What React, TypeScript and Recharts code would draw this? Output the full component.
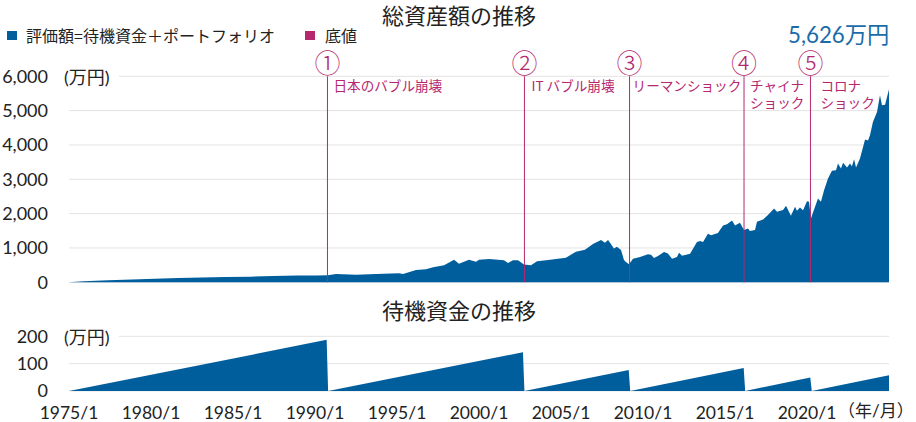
import { AreaChart, Area, XAxis, YAxis, CartesianGrid, ReferenceLine } from 'recharts';

const FONT = "Lato, 'Noto Sans CJK JP', sans-serif";
const CJK = "'Noto Sans CJK JP', sans-serif";
const BLUE = '#015e9d';
const PINK = '#b5276f';
const GRID = '#e3e3e3';

// 総資産額 (decimal year, 万円)
const totalYears = [
  1975, 1975.91, 1977.38, 1978.84, 1980.24, 1981.65, 1983.11, 1984.51, 1986.04, 1987.44, 1988.9,
  1990.06, 1990.79, 1991.28, 1992.5, 1993.72, 1995.12, 1995.37, 1996.16, 1996.77, 1997.2, 1997.87,
  1998.48, 1998.78, 1999.39, 1999.82, 2000, 2000.61, 2001.16, 2001.52, 2001.77, 2002.07, 2002.38,
  2002.74, 2003.17, 2003.54, 2004.09, 2004.7, 2005.3, 2005.91, 2006.46, 2006.95, 2007.44, 2007.68,
  2007.87, 2008.05, 2008.23, 2008.41, 2008.66, 2008.84, 2008.96, 2009.15, 2009.39, 2009.82, 2010.3,
  2010.49, 2010.67, 2010.91, 2011.28, 2011.52, 2011.77, 2012.07, 2012.2, 2012.38, 2012.87, 2013.29,
  2013.48, 2013.66, 2013.96, 2014.15, 2014.57, 2014.88, 2015.12, 2015.43, 2015.61, 2015.91, 2016.16,
  2016.4, 2016.52, 2016.83, 2016.95, 2017.32, 2017.62, 2017.99, 2018.17, 2018.54, 2018.72, 2019.02,
  2019.27, 2019.39, 2019.57, 2019.76, 2020, 2020.12, 2020.24, 2020.49, 2020.67, 2020.85, 2021.04,
  2021.28, 2021.52, 2021.77, 2021.89, 2022.07, 2022.2, 2022.44, 2022.62, 2022.74, 2022.87, 2022.99,
  2023.23, 2023.54, 2023.72, 2023.84, 2024.02, 2024.27, 2024.45, 2024.57, 2024.76, 2025,
];
const totalValues = [
  0, 30, 60, 80, 107, 122, 137, 157, 165, 186, 195,
  200, 205, 242, 223, 242, 262, 245, 358, 378, 436, 494,
  659, 543, 659, 600, 659, 678, 659, 640, 562, 640, 640,
  520, 494, 610, 640, 678, 717, 891, 950, 1114, 1230, 1150,
  1230, 1110, 988, 1037, 940, 650, 590, 523, 688, 736, 814,
  800, 707, 765, 882, 840, 688, 736, 862, 775, 833, 1172,
  1201, 1172, 1415, 1370, 1434, 1657, 1690, 1802, 1657, 1735, 1521,
  1570, 1492, 1521, 1764, 1831, 1957, 2151, 2054, 2103, 2229, 1938,
  2200, 2083, 2180, 2100, 2364, 2345, 1860, 2200, 2442, 2345, 2684,
  3023, 3246, 3260, 3459, 3314, 3479, 3343, 3459, 3380, 3585, 3343,
  3605, 4157, 4130, 4283, 4670, 4961, 5446, 5155, 5170, 5626,
];

// 待機資金 (decimal year, 万円)
const cashYears = [1975, 1990.71, 1990.8, 2002.68, 2002.77, 2009.13, 2009.22, 2016.14, 2016.23, 2020.2, 2020.29, 2025];
const cashValues = [0, 187, 0, 142, 0, 77, 0, 84, 0, 49, 0, 58];

const totalTicks = [0, 1000, 2000, 3000, 4000, 5000, 6000];
const cashTicks = [0, 100, 200];
const yearTicks = [1975, 1980, 1985, 1990, 1995, 2000, 2005, 2010, 2015, 2020];

const markerYears = [1990.76, 2002.77, 2009.18, 2016.16, 2020.21];
const markerNumbers = ['①', '②', '③', '④', '⑤'];
const markerTexts = [['日本のバブル崩壊'], ['IT バブル崩壊'], ['リーマンショック'], ['チャイナ', 'ショック'], ['コロナ', 'ショック']];

const labelOffsets = [6, 7, 3, 6, 10];

const totalData = totalYears.map((year, i) => ({ year, value: totalValues[i] }));
const cashData = cashYears.map((year, i) => ({ year, value: cashValues[i] }));

function MarkerLabel({ viewBox, index }: any) {
  const x = viewBox.x;
  return (
    <g>
      <text x={x} y={72.5} textAnchor="middle" fontSize={26} fontWeight={200} fontFamily={CJK} fill={PINK}>
        {markerNumbers[index]}
      </text>
      {markerTexts[index].map((line, i) => (
        <text key={line} x={x + labelOffsets[index]} y={90.5 + i * 17.5} fontSize={13.6} fontFamily={CJK} fill={PINK}>
          {line}
        </text>
      ))}
    </g>
  );
}

const absText = (left: number, top: number, fontSize: number, color = '#222'): React.CSSProperties => ({
  position: 'absolute',
  left,
  top,
  fontSize,
  color,
  lineHeight: '24px',
  whiteSpace: 'nowrap',
  fontFamily: FONT,
});

const square = (left: number, color: string): React.CSSProperties => ({
  position: 'absolute',
  left,
  top: 31,
  width: 10,
  height: 9,
  background: color,
});

export default function App() {
  return (
    <div style={{ position: 'absolute', left: 0, top: 0, width: 916, height: 422, overflow: 'hidden', background: '#fff' }}>
      <div style={{ position: 'absolute', left: 0, top: 0 }}>
        <AreaChart width={916} height={300} data={totalData} margin={{ top: 76.3, right: 27, bottom: 17.7, left: 0 }}>
          <CartesianGrid vertical={false} stroke={GRID} />
          <XAxis dataKey="year" type="number" domain={[1975, 2025]} hide />
          <YAxis
            width={69}
            domain={[0, 6000]}
            ticks={totalTicks}
            tickFormatter={(v: number) => v.toLocaleString('en-US')}
            tick={{ fontSize: 18, fill: '#222', fontFamily: FONT }}
            tickSize={0}
            tickMargin={21}
            tickLine={false}
            axisLine={false}
          />
          <Area dataKey="value" type="linear" stroke="none" fill={BLUE} fillOpacity={1} isAnimationActive={false} dot={false} activeDot={false} />
          {markerYears.map((year, i) => (
            <ReferenceLine key={year} x={year} stroke={PINK} strokeWidth={1} label={<MarkerLabel index={i} />} />
          ))}
        </AreaChart>
      </div>
      <div style={{ position: 'absolute', left: 0, top: 295 }}>
        <AreaChart width={916} height={127} data={cashData} margin={{ top: 41.3, right: 27, bottom: 0, left: 0 }}>
          <CartesianGrid vertical={false} stroke={GRID} />
          <XAxis
            dataKey="year"
            type="number"
            domain={[1975, 2025]}
            ticks={yearTicks}
            interval={0}
            tickFormatter={(v: number) => `${v}/1`}
            tick={{ fontSize: 17.5, fill: '#222', fontFamily: FONT }}
            tickSize={0}
            tickMargin={16}
            tickLine={false}
            axisLine={false}
            height={31}
          />
          <YAxis
            width={69}
            domain={[0, 200]}
            ticks={cashTicks}
            tick={{ fontSize: 18, fill: '#222', fontFamily: FONT }}
            tickSize={0}
            tickMargin={21}
            tickLine={false}
            axisLine={false}
          />
          <Area dataKey="value" type="linear" stroke="none" fill={BLUE} fillOpacity={1} isAnimationActive={false} dot={false} activeDot={false} />
        </AreaChart>
      </div>

      <div style={{ ...absText(382, 2, 22), fontFamily: CJK }}>総資産額の推移</div>
      <div style={{ ...absText(382, 297, 22), fontFamily: CJK }}>待機資金の推移</div>

      <div style={square(7, BLUE)} />
      <div style={{ ...absText(26, 23, 16), fontFamily: CJK }}>評価額=待機資金＋ポートフォリオ</div>
      <div style={square(305, PINK)} />
      <div style={{ ...absText(325, 23, 16), fontFamily: CJK }}>底値</div>

      <div style={{ ...absText(788, 23, 22.3, '#1a6ca8') }}>5,626万円</div>

      <div style={{ ...absText(64, 65, 18), width: 55, background: '#fff' }}>(万円)</div>
      <div style={{ ...absText(64, 325, 18), width: 55, background: '#fff' }}>(万円)</div>
      <div style={{ ...absText(838, 399, 17) }}>（年/月）</div>
    </div>
  );
}
